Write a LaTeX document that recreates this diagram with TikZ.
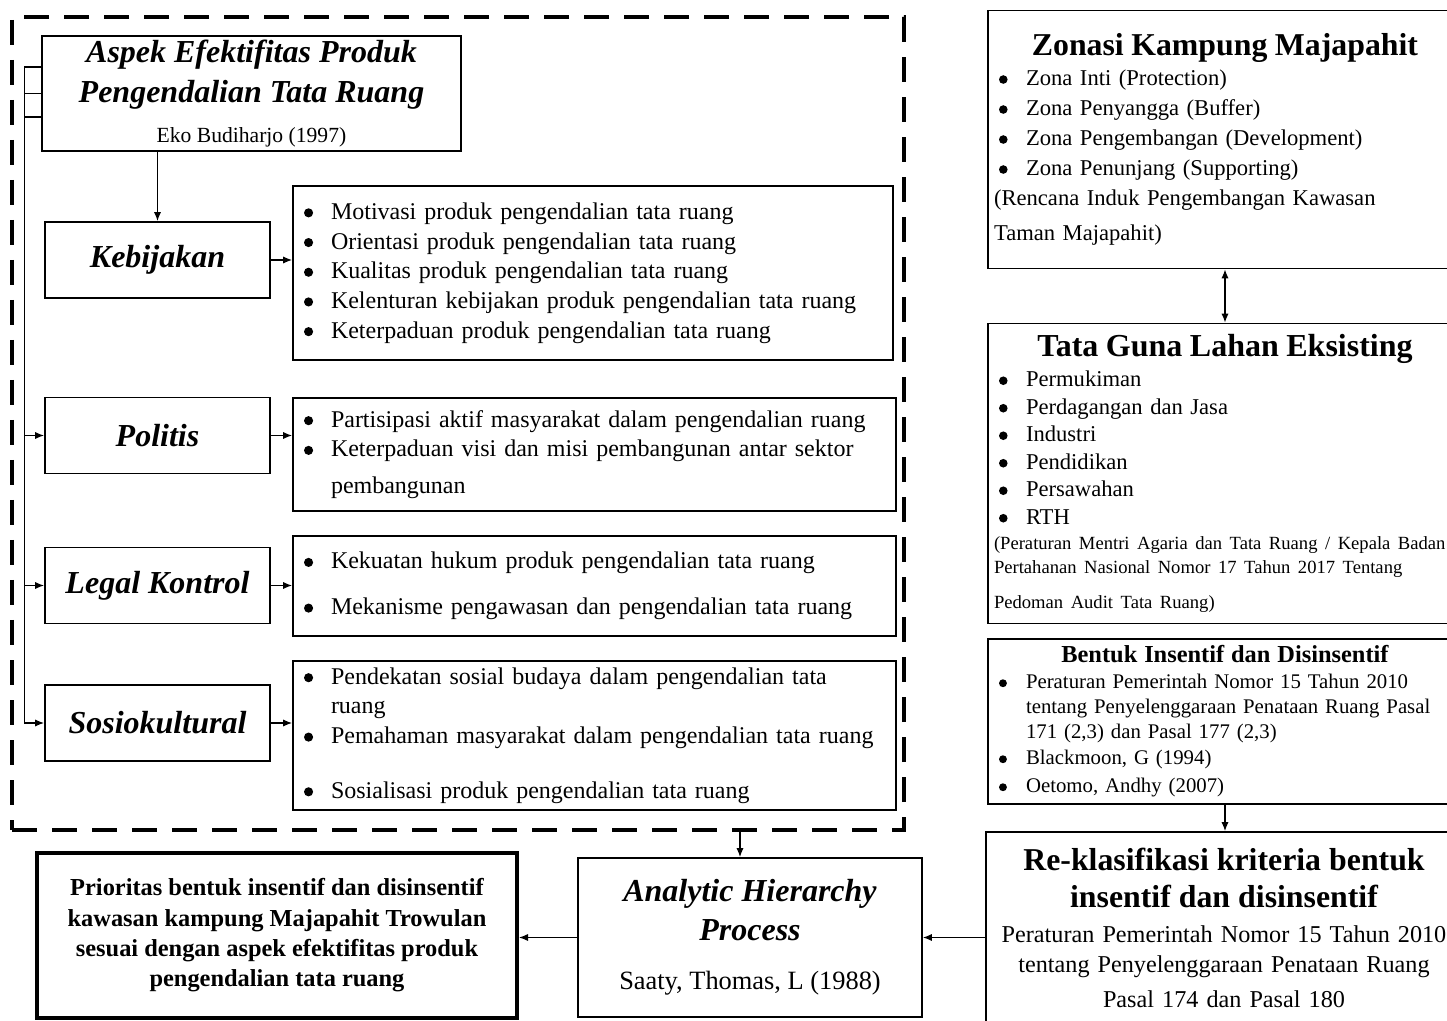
\documentclass[tikz,border=0pt]{standalone}
\usepackage{fontspec}
\setmainfont{Liberation Serif}
\usepackage{tikz}
\usetikzlibrary{arrows,arrows.meta,shapes,positioning}
\newcommand{\itm}{\makebox[16pt][l]{\hspace{2.5pt}\tikz[baseline=-0.27em]\fill (0,0) circle (0.19em);}}
\newcommand{\itmc}{\hspace*{16pt}}
\tikzset{
    raw box/.style={rectangle, draw, line width=0.9pt, inner xsep=3pt, inner ysep=2pt},
    aspect box/.style={raw box, minimum width=112.5pt, minimum height=38pt, align=center, font=\fontsize{16}{18}\selectfont\bfseries\itshape},
    list box/.style={raw box, text width=294pt, align=left, font=\fontsize{12}{14.85}\selectfont},
    source box/.style={raw box, text width=231pt, align=left},
    frame box/.style={rectangle, draw, line width=2pt, dash pattern=on 12.5pt off 7.5pt},
    result box/.style={raw box, align=center}
}

\begin{document}
\begin{tikzpicture}[x=0.5pt, y=-0.5pt, >={Latex[length=4.5pt,width=3.6pt]}, every path/.style={line width=0.6pt}]
	\useasboundingbox (0,0) rectangle (1447,1021);
	\node[frame box, minimum width=446pt, minimum height=406.5pt] (frame) at (458,423.5) {};
	\node[raw box, minimum width=209.5pt, minimum height=57.5pt, align=center, font=\fontsize{10.8}{20}\selectfont] (aspek) at (251.5,93.5)
		{{\fontsize{16}{20}\selectfont\bfseries\itshape Aspek Efektifitas Produk}\\
		{\fontsize{16}{20}\selectfont\bfseries\itshape Pengendalian Tata Ruang}\\
		Eko Budiharjo (1997)};
	\node[aspect box] (keb) at (157.5,260) {Kebijakan};
	\node[aspect box] (pol) at (157.5,435.5) {Politis};
	\node[aspect box] (leg) at (157.5,585.5) {Legal Kontrol};
	\node[aspect box] (sos) at (157.5,723) {Sosiokultural};
	\node[list box, minimum height=87pt] (kebL) at (593,273)
		{\itm Motivasi produk pengendalian tata ruang\\
		\itm Orientasi produk pengendalian tata ruang\\
		\itm Kualitas produk pengendalian tata ruang\\
		\itm Kelenturan kebijakan produk pengendalian tata ruang\\
		\itm Keterpaduan produk pengendalian tata ruang};
	\node[list box, text width=295.5pt, minimum height=56.5pt] (polL) at (594.5,454.5)
		{\itm Partisipasi aktif masyarakat dalam pengendalian ruang\\
		\itm Keterpaduan visi dan misi pembangunan antar sektor\\[3.5pt]
		\itmc pembangunan};
	\node[list box, text width=295.5pt, minimum height=50pt] (legL) at (594.5,586)
		{\itm Kekuatan hukum produk pengendalian tata ruang\\[8pt]
		\itm Mekanisme pengawasan dan pengendalian tata ruang};
	\node[list box, text width=295.5pt, minimum height=74.5pt] (sosL) at (594.5,735.5)
		{\itm Pendekatan sosial budaya dalam pengendalian tata\\
		\itmc ruang\\
		\itm Pemahaman masyarakat dalam pengendalian tata ruang\\[12.5pt]
		\itm Sosialisasi produk pengendalian tata ruang};
	\draw[->] (keb.north |- aspek.south) -- (keb.north);
	\draw[->] ([yshift=13.25pt]aspek.west) -- ++(-8.5pt,0) |- (pol.west);
	\draw[->] (aspek.west) -- ++(-8.5pt,0) |- (leg.west);
	\draw[->] ([yshift=-11.75pt]aspek.west) -- ++(-8.5pt,0) |- (sos.west);
	\draw[->] (keb.east) -- (keb.east -| kebL.west);
	\draw[->] (pol.east) -- (pol.east -| polL.west);
	\draw[->] (leg.east) -- (leg.east -| legL.west);
	\draw[->] (sos.east) -- (sos.east -| sosL.west);
	\node[source box, minimum height=129pt, font=\fontsize{11.3}{15}\selectfont] (zon) at (1225,139.5)
		{\makebox[231pt]{\fontsize{15.9}{18}\selectfont\bfseries Zonasi Kampung Majapahit}\\
		\itm Zona Inti (Protection)\\
		\itm Zona Penyangga (Buffer)\\
		\itm Zona Pengembangan (Development)\\
		\itm Zona Penunjang (Supporting)\\
		(Rencana Induk Pengembangan Kawasan\\[2.5pt]
		Taman Majapahit)};
	\node[source box, minimum height=150pt, font=\fontsize{11.3}{13.75}\selectfont] (tgl) at (1225,473.5)
		{\makebox[231pt]{\fontsize{16}{18}\selectfont\bfseries Tata Guna Lahan Eksisting}\\[1.25pt]
		\itm Permukiman\\
		\itm Perdagangan dan Jasa\\
		\itm Industri\\
		\itm Pendidikan\\
		\itm Persawahan\\
		\itm RTH\\[-1.25pt]
		{\fontsize{9.3}{12}\selectfont (Peraturan Mentri Agaria dan Tata Ruang / Kepala Badan}\\[-1.75pt]
		{\fontsize{9.3}{12}\selectfont Pertahanan Nasional Nomor 17 Tahun 2017 Tentang}\\[3.75pt]
		{\fontsize{9.3}{12}\selectfont Pedoman Audit Tata Ruang)}};
	\node[source box, minimum height=82.5pt, font=\fontsize{10.4}{12.5}\selectfont] (bent) at (1225,721.5)
		{\makebox[231pt]{\fontsize{12.2}{13}\selectfont\bfseries Bentuk Insentif dan Disinsentif}\\[0.5pt]
		\itm Peraturan Pemerintah Nomor 15 Tahun 2010\\
		\itmc tentang Penyelenggaraan Penataan Ruang Pasal\\
		\itmc 171 (2,3) dan Pasal 177 (2,3)\\[0.5pt]
		\itm Blackmoon, G (1994)\\[1.5pt]
		\itm Oetomo, Andhy (2007)};
	\node[result box, text width=232pt, minimum height=96pt, font=\fontsize{12.1}{15}\selectfont] (rek) at (1224,928)
		{{\fontsize{15.9}{18}\selectfont\bfseries Re-klasifikasi kriteria bentuk}\\[3.5pt]
		{\fontsize{15.9}{18}\selectfont\bfseries insentif dan disinsentif}\\[2.5pt]
		Peraturan Pemerintah Nomor 15 Tahun 2010\\
		tentang Penyelenggaraan Penataan Ruang\\[2.5pt]
		Pasal 174 dan Pasal 180};
	\node[result box, minimum width=172pt, minimum height=79.5pt, font=\fontsize{13.2}{15}\selectfont] (ahp) at (750,937.5)
		{{\fontsize{16}{18}\selectfont\bfseries\itshape Analytic Hierarchy}\\[4.5pt]
		{\fontsize{16}{18}\selectfont\bfseries\itshape Process}\\[9.5pt]
		Saaty, Thomas, L (1988)};
	\node[result box, line width=2pt, minimum width=240pt, minimum height=82.5pt, font=\fontsize{12.2}{15.2}\selectfont\bfseries] (prio) at (277,935.5)
		{Prioritas bentuk insentif dan disinsentif\\
		kawasan kampung Majapahit Trowulan\\
		sesuai dengan aspek efektifitas produk\\
		pengendalian tata ruang};
	\draw[<->] (zon.south) -- (tgl.north);
	\draw[->] (bent.south) -- (bent.south |- rek.north);
	\draw[->] (rek.west |- ahp.east) -- (ahp.east);
	\draw[->] (ahp.west) -- (ahp.west -| prio.east);
	\draw[->] ([xshift=-5pt]ahp.north |- frame.south) -- ([xshift=-5pt]ahp.north);
\end{tikzpicture}
\end{document}
